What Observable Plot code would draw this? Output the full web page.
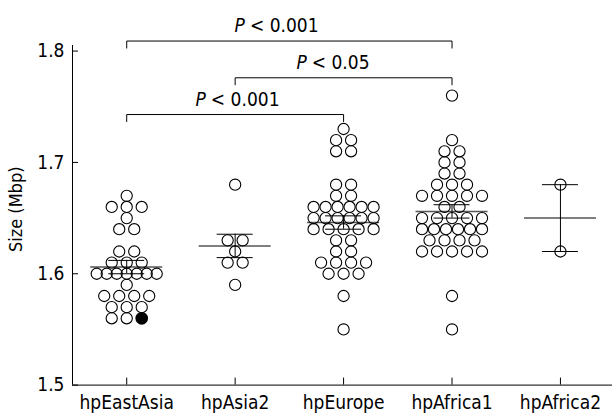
<!DOCTYPE html>
<html><head><meta charset="utf-8">
<script src="https://cdn.jsdelivr.net/npm/d3@7"></script>
<script src="https://cdn.jsdelivr.net/npm/@observablehq/plot@0.6"></script>
<style>
html,body{margin:0;padding:0;background:#fff;}
</style>
</head><body><div id="chart"></div>
<script>
const groups = ["hpEastAsia", "hpAsia2", "hpEurope", "hpAfrica1", "hpAfrica2"];
const hpEastAsia = [1.67, 1.66, 1.66, 1.66, 1.65, 1.64, 1.64, 1.62, 1.62, 1.61, 1.61, 1.61,
  1.60, 1.60, 1.60, 1.60, 1.60, 1.60, 1.60, 1.59, 1.58, 1.58, 1.58, 1.58, 1.57, 1.57, 1.57, 1.56, 1.56];
const hpEastAsiaFilled = [1.56];
const hpAsia2 = [1.68, 1.63, 1.63, 1.62, 1.61, 1.61, 1.59];
const hpEurope = [1.73, 1.72, 1.72, 1.71, 1.71, 1.68, 1.68, 1.67, 1.67,
  1.66, 1.66, 1.66, 1.66, 1.66, 1.66, 1.65, 1.65, 1.65, 1.65, 1.65, 1.65,
  1.64, 1.64, 1.64, 1.64, 1.64, 1.63, 1.63, 1.62, 1.62, 1.61, 1.61, 1.61, 1.61,
  1.60, 1.60, 1.60, 1.58, 1.55];
const hpAfrica1 = [1.76, 1.72, 1.71, 1.71, 1.70, 1.70, 1.69, 1.69, 1.68, 1.68, 1.68,
  1.67, 1.67, 1.67, 1.67, 1.67, 1.66, 1.66, 1.65, 1.65, 1.65, 1.65, 1.65,
  1.64, 1.64, 1.64, 1.64, 1.64, 1.64, 1.63, 1.63, 1.63, 1.63,
  1.62, 1.62, 1.62, 1.62, 1.62, 1.58, 1.55];
const hpAfrica2 = [1.68, 1.62];
const means = [1.606, 1.625, 1.646, 1.656, 1.65];
const sems = [0.006, 0.0105, 0.006, 0.006, 0.03];
const yTicks = [1.5, 1.6, 1.7, 1.8];
const bracketFrom = [0, 1, 0];
const bracketTo = [3, 3, 2];
const bracketLevel = [1.809, 1.776, 1.743];
const bracketText = ["< 0.001", "< 0.05", "< 0.001"];
const bracketLabelAt = [1.09, 1.66, 0.73];

const W = 612, H = 414, mL = 72, mR = 0, mT = 45, mB = 29.4;
const xDomain = [-0.5, 4.48];
const yDomain = [1.5, 1.805];
const pxPerX = (W - mL - mR) / (xDomain[1] - xDomain[0]);
const pxPerY = (H - mT - mB) / (yDomain[1] - yDomain[0]);

// row layout of points (computed from the values)
const series = [hpEastAsia, hpAsia2, hpEurope, hpAfrica1, hpAfrica2];
const points = [];
series.forEach((vals, gi) => {
  const items = vals.map(v => ({v, filled: false}));
  if (gi === 0) hpEastAsiaFilled.forEach(v => items.push({v, filled: true}));
  const rows = d3.group(items, d => d.v.toFixed(3));
  for (const [, row] of rows) {
    const k = row.length, s = k > 1 ? Math.min(15, 60 / (k - 1)) : 0;
    row.forEach((d, i) => points.push({group: gi, value: d.v, filled: d.filled,
      x: gi + (i - (k - 1) / 2) * s / pxPerX}));
  }
});

const idx = groups.map((g, i) => i);
const meanHalf = 36 / pxPerX, capHalf = 18 / pxPerX;
const drop = 7 / pxPerY;
const bracketPts = [];
bracketFrom.forEach((a, i) => {
  const b = bracketTo[i], y = bracketLevel[i];
  bracketPts.push({k: i, x: a, y: y - drop}, {k: i, x: a, y}, {k: i, x: b, y}, {k: i, x: b, y: y - drop});
});
const bIdx = bracketFrom.map((d, i) => i);

const font = '"DejaVu Sans Condensed", "DejaVu Sans", sans-serif';
const chart = Plot.plot({
  width: W, height: H,
  marginLeft: mL, marginRight: mR, marginTop: mT, marginBottom: mB,
  style: {fontFamily: font, fontSize: "19px", background: "white", color: "black", fontStretch: "condensed"},
  x: {domain: xDomain},
  y: {domain: yDomain},
  marks: [
    Plot.ruleX([xDomain[0]], {stroke: "black"}),
    Plot.ruleY([1.5], {stroke: "black"}),
    Plot.axisY({ticks: yTicks, tickSize: 6, dx: 6, tickFormat: () => "", label: null}),
    Plot.axisY({ticks: yTicks, tickSize: 0, tickPadding: 8, tickFormat: d => d.toFixed(1), label: null, fontSize: 19}),
    Plot.axisX({ticks: idx, tickSize: 7, dy: -7, tickFormat: () => "", label: null}),
    Plot.axisX({ticks: idx, tickSize: 0, tickPadding: 10, tickFormat: i => groups[i], label: null, fontSize: 19}),
    Plot.text(["Size (Mbp)"], {frameAnchor: "left", textAnchor: "middle", dx: -56, dy: -6, rotate: -90, fontSize: 18}),
    Plot.ruleY(idx, {y: i => means[i], x1: i => i - meanHalf, x2: i => i + meanHalf, stroke: "#555", strokeWidth: 1.5}),
    Plot.ruleY(idx, {y: i => means[i] + sems[i], x1: i => i - capHalf, x2: i => i + capHalf, stroke: "black"}),
    Plot.ruleY(idx, {y: i => means[i] - sems[i], x1: i => i - capHalf, x2: i => i + capHalf, stroke: "black"}),
    Plot.ruleX(idx, {x: i => i, y1: i => means[i] - sems[i], y2: i => means[i] + sems[i], stroke: "black"}),
    Plot.dot(points.filter(d => !d.filled), {x: "x", y: "value", r: 5.6, stroke: "black", strokeWidth: 1.1, fill: "none"}),
    Plot.dot(points.filter(d => d.filled), {x: "x", y: "value", r: 5.6, stroke: "black", fill: "black"}),
    Plot.line(bracketPts, {x: "x", y: "y", z: "k", stroke: "black", strokeWidth: 1}),
    Plot.text(bIdx, {x: i => bracketLabelAt[i], y: i => bracketLevel[i], text: () => "P", textAnchor: "end", dy: -15, fontStyle: "italic", fontSize: 19}),
    Plot.text(bIdx, {x: i => bracketLabelAt[i], y: i => bracketLevel[i], text: i => bracketText[i], textAnchor: "start", dx: 5, dy: -15, fontSize: 19})
  ]
});
document.getElementById("chart").appendChild(chart);
</script>
</body></html>
